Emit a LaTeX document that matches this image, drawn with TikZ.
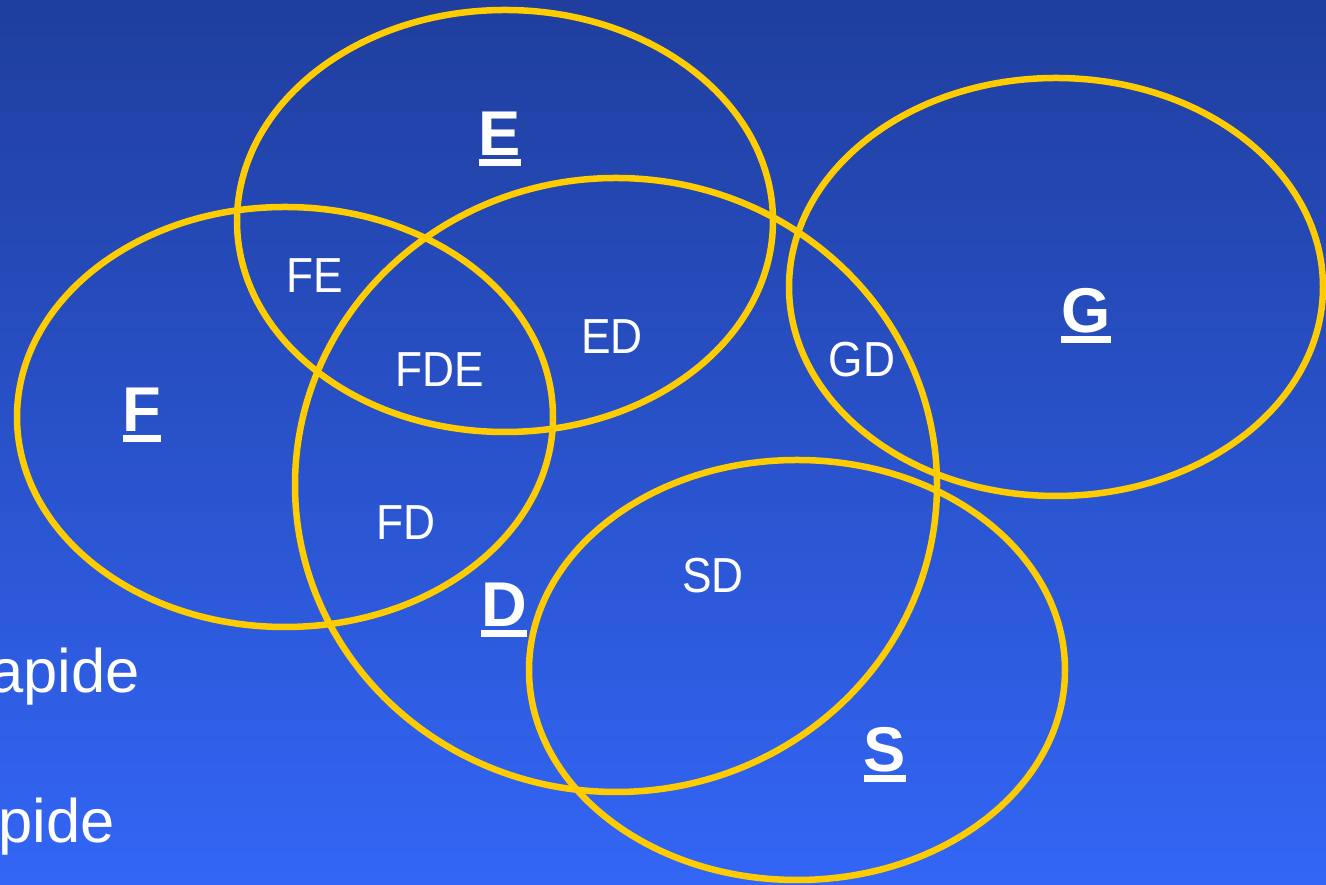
\documentclass[tikz,border=0pt]{standalone}
\usepackage{fontspec}
\setmainfont{Liberation Sans}
\newfontfamily\stretta[FakeStretch=0.9]{Liberation Sans}
\definecolor{giallo}{HTML}{FFCC00}
\definecolor{bluscuro}{RGB}{31,62,158}
\definecolor{bluchiaro}{RGB}{51,102,246}
\newcommand{\sottolinea}[1]{\setbox0=\hbox{#1}\makebox[0pt][l]{\rule[-0.156em]{\wd0}{0.11em}}\box0}
\tikzset{
  insieme/.style={draw=giallo, line width=0.13cm},
  lab/.style={text=white, anchor=base, inner sep=0pt, font=\fontsize{28}{32}\selectfont\stretta},
  nome/.style={text=white, anchor=base, inner sep=0pt, font=\fontsize{36}{40}\selectfont\bfseries}
}
\begin{document}
\begin{tikzpicture}
    % sfondo
    \useasboundingbox (0,0) rectangle (26.52,17.7);
    \clip (0,0) rectangle (26.52,17.7);
    \shade[top color=bluscuro, bottom color=bluchiaro] (0,0) rectangle (26.52,17.7);
    % insiemi
    \draw[insieme] (10.10,13.28) ellipse (5.36 and 4.22);
    \draw[insieme] (5.70,9.36) ellipse (5.36 and 4.20);
    \draw[insieme] (12.32,8.00) ellipse (6.42 and 6.14);
    \draw[insieme] (21.12,11.96) ellipse (5.34 and 4.18);
    \draw[insieme] (15.94,4.30) ellipse (5.36 and 4.20);
    % nomi
    \node[nome] (E) at (10.00,14.58) {\sottolinea{E}};
    \node[nome] (F) at (2.84,9.06) {\sottolinea{F}};
    \node[nome] (D) at (10.08,5.16) {\sottolinea{D}};
    \node[nome] (G) at (21.72,11.04) {\sottolinea{G}};
    \node[nome] (S) at (17.70,2.26) {\sottolinea{S}};
    % intersezioni
    \node[lab] (FE) at (6.30,11.84) {FE};
    \node[lab] (FDE) at (8.80,9.96) {FDE};
    \node[lab] (ED) at (12.24,10.62) {ED};
    \node[lab] (GD) at (17.24,10.16) {GD};
    \node[lab] (FD) at (8.12,6.90) {FD};
    \node[lab] (SD) at (14.26,5.84) {SD};
    % testo a sinistra
    \node[lab, font=\fontsize{35}{40}\selectfont, anchor=base west] (rap1) at (-0.22,3.84) {apide};
    \node[lab, font=\fontsize{35}{40}\selectfont, anchor=base west] (rap2) at (-0.04,0.84) {pide};
\end{tikzpicture}
\end{document}
